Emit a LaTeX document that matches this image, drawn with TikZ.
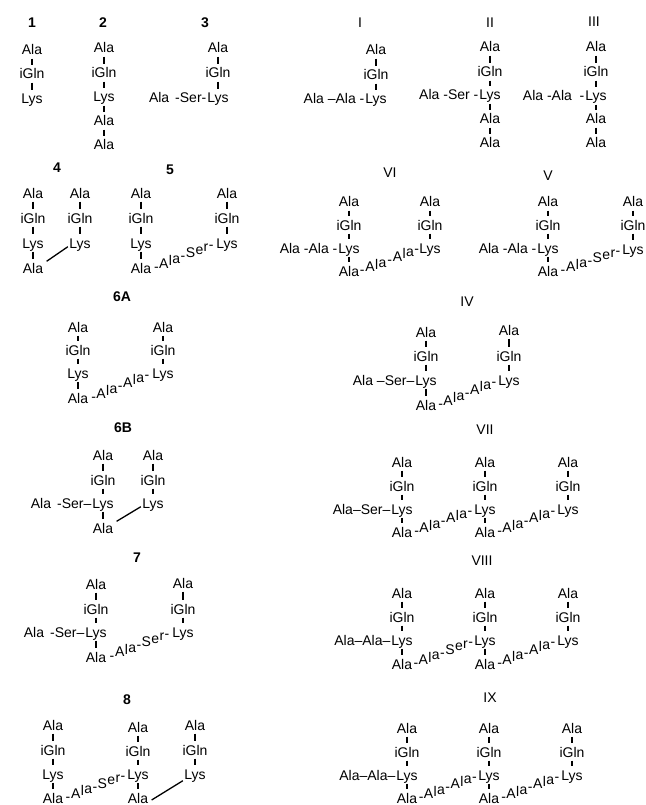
\documentclass[tikz,border=0pt]{standalone}
\usepackage{fontspec}
\setmainfont{Liberation Sans}
\usetikzlibrary{calc}
\newcommand\chfont{\fontsize{14}{16}\selectfont}
\tikzset{
  res/.style={font=\chfont, inner xsep=0.3pt, inner ysep=3.5pt, text height=10pt, text depth=0pt},
  pre/.style={res, anchor=base east},
  lab/.style={font=\chfont},
  blab/.style={font=\chfont\bfseries},
  glyph/.style={font=\chfont, inner sep=0pt, anchor=base},
  bar/.style={line width=1.2pt},
  link/.style={line width=1.3pt},
}
\newcommand\R[4]{\node[res] (#1) at (#2,#3) {#4};}
\newcommand\B[2]{\draw[bar] (#1) -- (#2);}
% rising chain of residues between two named nodes, set glyph by glyph (glyph/width list)
\newcommand\Ch[3]{%
  \path (#1.east) coordinate (#1cA) (#2.west) coordinate (#1cB) ($(#1cA)!.5!(#1cB)$) coordinate (#1cM);%
  \pgfpointdiff{\pgfpointanchor{#1cA}{center}}{\pgfpointanchor{#1cB}{center}}%
  \pgfgetlastxy\chx\chy
  \pgfmathsetmacro\chtan{\chy/\chx}%
  \xdef\chtotm{0}%
  \foreach \g/\w in {#3} {\pgfmathsetmacro\chtmp{\chtotm+\w}\xdef\chtotm{\chtmp}}%
  \pgfmathsetmacro\chtmp{-0.5*\chtotm}\xdef\chcurm{\chtmp}%
  \foreach \g/\w [count=\i] in {#3} {%
    \pgfmathsetmacro\chdx{\chcurm+0.5*\w}%
    \pgfmathsetmacro\chdy{\chdx*\chtan-5}%
    \node[glyph] (#1g\i) at ([xshift=\chdx pt, yshift=\chdy pt]#1cM) {\g};
    \pgfmathsetmacro\chtmp{\chcurm+\w}\xdef\chcurm{\chtmp}%
  }%
}
\begin{document}
\begin{tikzpicture}[x=1pt,y=-1pt]
\useasboundingbox (0,0) rectangle (645,805);
% labels
\node[blab] (t1) at (32,23) {1};
\node[blab] (t2) at (103,23) {2};
\node[blab] (t3) at (205,23) {3};
\node[lab] (tI) at (360,23) {I};
\node[lab] (tII) at (490,23) {II};
\node[lab] (tIII) at (594,22) {III};
\node[blab] (t4) at (57,168) {4};
\node[blab] (t5) at (170,170) {5};
\node[lab] (tVI) at (390,173) {VI};
\node[lab] (tV) at (548,176) {V};
\node[blab] (t6A) at (122,297) {6A};
\node[lab] (tIV) at (467,302) {IV};
\node[blab] (t6B) at (123,428) {6B};
\node[lab] (tVII) at (485,430) {VII};
\node[blab] (t7) at (137,558) {7};
\node[lab] (tVIII) at (482,561) {VIII};
\node[blab] (t8) at (127,700) {8};
\node[lab] (tIX) at (490,698) {IX};
% 1
\R{a1}{32}{50}{Ala}\R{g1}{32}{74}{iGln}\R{l1}{32}{99}{Lys}
\B{a1}{g1}\B{g1}{l1}
% 2
\R{a2}{104}{48}{Ala}\R{g2}{104}{73}{iGln}\R{l2}{104}{97}{Lys}\R{b2}{104}{121}{Ala}\R{c2}{104}{145}{Ala}
\B{a2}{g2}\B{g2}{l2}\B{l2}{b2}\B{b2}{c2}
% 3
\R{a3}{218}{48}{Ala}\R{g3}{218}{73}{iGln}\R{l3}{218}{98}{Lys}
\node[pre] (p3) at (l3.base west) {Ala\hspace{6pt}-Ser-};
\B{a3}{g3}\B{g3}{l3}
% I
\R{aI}{376}{50}{Ala}\R{gI}{376}{75}{iGln}\R{lI}{376}{99}{Lys}
\node[pre] (pI) at (lI.base west) {Ala --Ala -};
\B{aI}{gI}\B{gI}{lI}
% II
\R{aII}{490}{47}{Ala}\R{gII}{490}{72}{iGln}\R{lII}{490}{95}{Lys}\R{bII}{490}{119}{Ala}\R{cII}{490}{143}{Ala}
\node[pre] (pII) at (lII.base west) {Ala -Ser -};
\B{aII}{gII}\B{gII}{lII}\B{lII}{bII}\B{bII}{cII}
% III
\R{aIII}{596}{47}{Ala}\R{gIII}{596}{72}{iGln}\R{lIII}{596}{96}{Lys}\R{bIII}{596}{119}{Ala}\R{cIII}{596}{143}{Ala}
\node[pre] (pIII) at (lIII.base west) {Ala -Ala \ -};
\B{aIII}{gIII}\B{gIII}{lIII}\B{lIII}{bIII}\B{bIII}{cIII}
% 4
\R{a4}{33}{193}{Ala}\R{g4}{33}{218}{iGln}\R{l4}{33}{243}{Lys}\R{d4}{33}{268}{Ala}
\R{a4r}{80}{193}{Ala}\R{g4r}{80}{218}{iGln}\R{l4r}{80}{243}{Lys}
\B{a4}{g4}\B{g4}{l4}\B{l4}{d4}\B{a4r}{g4r}\B{g4r}{l4r}
\draw[link] ([xshift=3pt,yshift=-2pt]d4.north east) -- ([xshift=-1pt,yshift=5pt]l4r.south west);
% 5
\R{a5}{141}{193}{Ala}\R{g5}{141}{218}{iGln}\R{l5}{141}{243}{Lys}\R{d5}{141}{268}{Ala}
\R{a5r}{227}{193}{Ala}\R{g5r}{227}{218}{iGln}\R{l5r}{227}{243}{Lys}
\B{a5}{g5}\B{g5}{l5}\B{l5}{d5}\B{a5r}{g5r}\B{g5r}{l5r}
\Ch{d5}{l5r}{-/5.2,A/9.8,l/3.4,a/8.2,-/5.2,S/9.8,e/8.2,r/5,-/5.2}
% VI
\R{aVI}{349}{202}{Ala}\R{gVI}{349}{225}{iGln}\R{lVI}{349}{248}{Lys}\R{dVI}{349}{271}{Ala}
\node[pre] (pVI) at (lVI.base west) {Ala -Ala -};
\R{aVIr}{430}{202}{Ala}\R{gVIr}{430}{225}{iGln}\R{lVIr}{430}{248}{Lys}
\B{aVI}{gVI}\B{gVI}{lVI}\B{lVI}{dVI}\B{aVIr}{gVIr}\B{gVIr}{lVIr}
\Ch{dVI}{lVIr}{-/6,A/9.8,l/3.4,a/8.2,-/6,A/9.8,l/3.4,a/8.2,-/5.2}
% V
\R{aV}{548}{202}{Ala}\R{gV}{548}{225}{iGln}\R{lV}{548}{248}{Lys}\R{dV}{548}{271}{Ala}
\node[pre] (pV) at (lV.base west) {Ala -Ala -};
\R{aVr}{633}{202}{Ala}\R{gVr}{633}{225}{iGln}\R{lVr}{633}{249}{Lys}
\B{aV}{gV}\B{gV}{lV}\B{lV}{dV}\B{aVr}{gVr}\B{gVr}{lVr}
\Ch{dV}{lVr}{-/6,A/9.8,l/3.4,a/8.2,-/5.2,S/9.8,e/8.2,r/5,-/5.2}
% 6A
\R{a6}{78}{327}{Ala}\R{g6}{78}{350}{iGln}\R{l6}{78}{373}{Lys}\R{d6}{78}{398}{Ala}
\R{a6r}{163}{327}{Ala}\R{g6r}{163}{350}{iGln}\R{l6r}{163}{373}{Lys}
\B{a6}{g6}\B{g6}{l6}\B{l6}{d6}\B{a6r}{g6r}\B{g6r}{l6r}
\Ch{d6}{l6r}{-/5.2,A/9.8,l/3.4,a/8.2,-/5.2,A/9.8,l/3.4,a/8.2,-/5.2}
% IV
\R{aIV}{426}{332}{Ala}\R{gIV}{426}{356}{iGln}\R{lIV}{426}{380}{Lys}\R{dIV}{426}{405}{Ala}
\node[pre] (pIV) at (lIV.base west) {Ala --Ser--};
\R{aIVr}{509}{330}{Ala}\R{gIVr}{509}{356}{iGln}\R{lIVr}{509}{380}{Lys}
\B{aIV}{gIV}\B{gIV}{lIV}\B{lIV}{dIV}\B{aIVr}{gIVr}\B{gIVr}{lIVr}
\Ch{dIV}{lIVr}{-/5.2,A/9.8,l/3.4,a/8.2,-/5.2,A/9.8,l/3.4,a/8.2,-/5.2}
% 6B
\R{a6B}{103}{455}{Ala}\R{g6B}{103}{480}{iGln}\R{l6B}{103}{503}{Lys}\R{d6B}{103}{528}{Ala}
\node[pre] (p6B) at (l6B.base west) {Ala\hspace{6pt}-Ser--};
\R{a6Br}{153}{455}{Ala}\R{g6Br}{153}{480}{iGln}\R{l6Br}{153}{503}{Lys}
\B{a6B}{g6B}\B{g6B}{l6B}\B{l6B}{d6B}\B{a6Br}{g6Br}\B{g6Br}{l6Br}
\draw[link] ([xshift=3pt,yshift=-2pt]d6B.north east) -- ([xshift=-1pt,yshift=5pt]l6Br.south west);
% VII
\R{aVII}{402}{462}{Ala}\R{gVII}{402}{486}{iGln}\R{lVII}{402}{509}{Lys}\R{dVII}{402}{532}{Ala}
\node[pre] (pVII) at (lVII.base west) {Ala--Ser--};
\R{aVIIm}{485}{462}{Ala}\R{gVIIm}{485}{486}{iGln}\R{lVIIm}{485}{509}{Lys}\R{dVIIm}{485}{532}{Ala}
\R{aVIIr}{568}{462}{Ala}\R{gVIIr}{568}{486}{iGln}\R{lVIIr}{568}{509}{Lys}
\B{aVII}{gVII}\B{gVII}{lVII}\B{lVII}{dVII}
\B{aVIIm}{gVIIm}\B{gVIIm}{lVIIm}\B{lVIIm}{dVIIm}
\B{aVIIr}{gVIIr}\B{gVIIr}{lVIIr}
\Ch{dVII}{lVIIm}{-/5.2,A/9.8,l/3.4,a/8.2,-/5.2,A/9.8,l/3.4,a/8.2,-/5.2}
\Ch{dVIIm}{lVIIr}{-/5.2,A/9.8,l/3.4,a/8.2,-/5.2,A/9.8,l/3.4,a/8.2,-/5.2}
% 7
\R{a7}{96}{584}{Ala}\R{g7}{96}{609}{iGln}\R{l7}{96}{632}{Lys}\R{d7}{96}{657}{Ala}
\node[pre] (p7) at (l7.base west) {Ala\hspace{6pt}-Ser--};
\R{a7r}{183}{583}{Ala}\R{g7r}{183}{609}{iGln}\R{l7r}{183}{632}{Lys}
\B{a7}{g7}\B{g7}{l7}\B{l7}{d7}\B{a7r}{g7r}\B{g7r}{l7r}
\Ch{d7}{l7r}{-/6,A/9.8,l/3.4,a/8.2,-/5.2,S/9.8,e/8.2,r/5,-/5.2}
% VIII
\R{aVIII}{402}{593}{Ala}\R{gVIII}{402}{617}{iGln}\R{lVIII}{402}{640}{Lys}\R{dVIII}{402}{664}{Ala}
\node[pre] (pVIII) at (lVIII.base west) {Ala--Ala--};
\R{aVIIIm}{485}{593}{Ala}\R{gVIIIm}{485}{617}{iGln}\R{lVIIIm}{485}{640}{Lys}\R{dVIIIm}{485}{664}{Ala}
\R{aVIIIr}{568}{593}{Ala}\R{gVIIIr}{568}{617}{iGln}\R{lVIIIr}{568}{640}{Lys}
\B{aVIII}{gVIII}\B{gVIII}{lVIII}\B{lVIII}{dVIII}
\B{aVIIIm}{gVIIIm}\B{gVIIIm}{lVIIIm}\B{lVIIIm}{dVIIIm}
\B{aVIIIr}{gVIIIr}\B{gVIIIr}{lVIIIr}
\Ch{dVIII}{lVIIIm}{-/5.2,A/9.8,l/3.4,a/8.2,-/5.2,S/9.8,e/8.2,r/5,-/5.2}
\Ch{dVIIIm}{lVIIIr}{-/5.2,A/9.8,l/3.4,a/8.2,-/5.2,A/9.8,l/3.4,a/8.2,-/5.2}
% 8
\R{a8}{53}{725}{Ala}\R{g8}{53}{750}{iGln}\R{l8}{53}{774}{Lys}\R{d8}{53}{798}{Ala}
\R{a8m}{138}{727}{Ala}\R{g8m}{138}{751}{iGln}\R{l8m}{138}{774}{Lys}\R{d8m}{138}{798}{Ala}
\R{a8r}{195}{725}{Ala}\R{g8r}{195}{750}{iGln}\R{l8r}{195}{774}{Lys}
\B{a8}{g8}\B{g8}{l8}\B{l8}{d8}
\B{a8m}{g8m}\B{g8m}{l8m}\B{l8m}{d8m}
\B{a8r}{g8r}\B{g8r}{l8r}
\Ch{d8}{l8m}{-/6,A/9.8,l/3.4,a/8.2,-/5.2,S/9.8,e/8.2,r/5,-/5.2}
\draw[link] ([xshift=3pt,yshift=-2pt]d8m.east) -- ([xshift=-1pt,yshift=2pt]l8r.south west);
% IX
\R{aIX}{407}{728}{Ala}\R{gIX}{407}{752}{iGln}\R{lIX}{407}{775}{Lys}\R{dIX}{407}{798}{Ala}
\node[pre] (pIX) at (lIX.base west) {Ala--Ala--};
\R{aIXm}{489}{728}{Ala}\R{gIXm}{489}{752}{iGln}\R{lIXm}{489}{775}{Lys}\R{dIXm}{489}{798}{Ala}
\R{aIXr}{572}{728}{Ala}\R{gIXr}{572}{752}{iGln}\R{lIXr}{572}{775}{Lys}
\B{aIX}{gIX}\B{gIX}{lIX}\B{lIX}{dIX}
\B{aIXm}{gIXm}\B{gIXm}{lIXm}\B{lIXm}{dIXm}
\B{aIXr}{gIXr}\B{gIXr}{lIXr}
\Ch{dIX}{lIXm}{-/5.2,A/9.8,l/3.4,a/8.2,-/5.2,A/9.8,l/3.4,a/8.2,-/5.2}
\Ch{dIXm}{lIXr}{-/5.2,A/9.8,l/3.4,a/8.2,-/5.2,A/9.8,l/3.4,a/8.2,-/5.2}
\end{tikzpicture}
\end{document}
